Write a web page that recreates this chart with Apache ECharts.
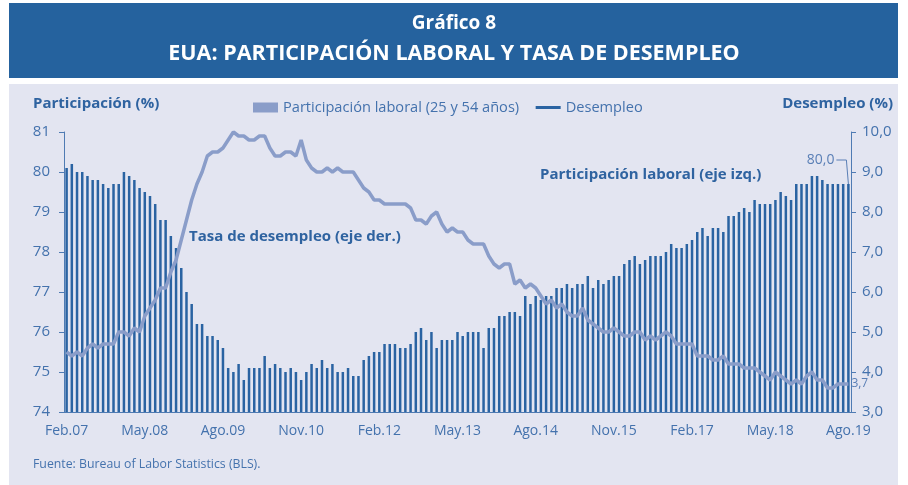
<!DOCTYPE html>
<html>
<head>
<meta charset="utf-8">
<title>Gráfico 8</title>
<script src="https://cdn.jsdelivr.net/npm/echarts@6/dist/echarts.min.js"></script>
<style>
    html, body { margin: 0; padding: 0; background: #ffffff; }
    #chart { width: 908px; height: 485px; }
</style>
</head>
<body>
<div id="chart"></div>
<script>
// Meses (Feb.07 - Ago.19)
const meses = ['Ene', 'Feb', 'Mar', 'Abr', 'May', 'Jun', 'Jul', 'Ago', 'Sep', 'Oct', 'Nov', 'Dic'];
const anios = ['07', '08', '09', '10', '11', '12', '13', '14', '15', '16', '17', '18', '19'];

// Participación laboral 25-54 años (%), eje izquierdo
const participacion = [
    80.1, 80.2, 80.0, 80.0, 79.9, 79.8, 79.8, 79.7, 79.6, 79.7, 79.7,
    80.0, 79.9, 79.8, 79.6, 79.5, 79.4, 79.2, 78.8, 78.8, 78.4, 78.1, 77.6,
    77.0, 76.7, 76.2, 76.2, 75.9, 75.9, 75.8, 75.6, 75.1, 75.0, 75.2, 74.8,
    75.1, 75.1, 75.1, 75.4, 75.1, 75.2, 75.1, 75.0, 75.1, 75.0, 74.8, 75.0,
    75.2, 75.1, 75.3, 75.1, 75.2, 75.0, 75.0, 75.1, 74.9, 74.9, 75.3, 75.4,
    75.5, 75.5, 75.7, 75.7, 75.7, 75.6, 75.6, 75.7, 76.0, 76.1, 75.8, 76.0,
    75.6, 75.8, 75.8, 75.8, 76.0, 75.9, 76.0, 76.0, 76.0, 75.6, 76.1, 76.1,
    76.4, 76.4, 76.5, 76.5, 76.4, 76.9, 76.7, 76.9, 76.8, 76.9, 76.9, 77.1,
    77.1, 77.2, 77.1, 77.2, 77.2, 77.4, 77.1, 77.3, 77.2, 77.3, 77.4, 77.4,
    77.7, 77.8, 77.9, 77.7, 77.8, 77.9, 77.9, 77.9, 78.0, 78.2, 78.1, 78.1,
    78.2, 78.3, 78.5, 78.6, 78.4, 78.6, 78.6, 78.5, 78.9, 78.9, 79.0, 79.1,
    79.0, 79.3, 79.2, 79.2, 79.2, 79.3, 79.5, 79.4, 79.3, 79.7, 79.7, 79.7,
    79.9, 79.9, 79.8, 79.7, 79.7, 79.7, 79.7, 79.7
];

// Tasa de desempleo (%), eje derecho
const desempleo = [
    4.5, 4.4, 4.5, 4.4, 4.6, 4.7, 4.6, 4.7, 4.7, 4.7, 5.0,
    5.0, 4.9, 5.1, 5.0, 5.4, 5.6, 5.8, 6.1, 6.1, 6.5, 6.8, 7.3,
    7.8, 8.3, 8.7, 9.0, 9.4, 9.5, 9.5, 9.6, 9.8, 10.0, 9.9, 9.9,
    9.8, 9.8, 9.9, 9.9, 9.6, 9.4, 9.4, 9.5, 9.5, 9.4, 9.8, 9.3,
    9.1, 9.0, 9.0, 9.1, 9.0, 9.1, 9.0, 9.0, 9.0, 8.8, 8.6, 8.5,
    8.3, 8.3, 8.2, 8.2, 8.2, 8.2, 8.2, 8.1, 7.8, 7.8, 7.7, 7.9,
    8.0, 7.7, 7.5, 7.6, 7.5, 7.5, 7.3, 7.2, 7.2, 7.2, 6.9, 6.7,
    6.6, 6.7, 6.7, 6.2, 6.3, 6.1, 6.2, 6.1, 5.9, 5.7, 5.8, 5.6,
    5.7, 5.5, 5.4, 5.4, 5.6, 5.3, 5.2, 5.1, 5.0, 5.0, 5.1, 5.0,
    4.9, 4.9, 5.0, 5.0, 4.8, 4.9, 4.8, 4.9, 5.0, 4.9, 4.7, 4.7,
    4.7, 4.7, 4.4, 4.4, 4.4, 4.3, 4.3, 4.4, 4.2, 4.2, 4.2, 4.1,
    4.1, 4.1, 4.0, 3.9, 3.8, 4.0, 3.9, 3.8, 3.7, 3.8, 3.7, 3.9,
    4.0, 3.8, 3.8, 3.6, 3.6, 3.7, 3.7, 3.7
];

// dato final de participación que se rotula en el gráfico
const participacionRotulo = 80.0;

// categorías: un mes por barra, desde Feb.07
const categorias = [];
anios.forEach((a, i) => {
    meses.forEach((m, j) => {
        if (i === 0 && j < 1) return;
        if (categorias.length < participacion.length) categorias.push(m + '.' + a);
    });
});

const FONT = '"Open Sans", "Noto Sans", sans-serif';
const azulBarra = '#2a63a2';
const azulLinea = '#8a9dc9';
const azulTexto = '#2f63a0';
const azulEtiqueta = '#4472ad';
const azulEje = '#4f7bb3';

const coma = v => v.toFixed(1).replace('.', ',');

const chart = echarts.init(document.getElementById('chart'));

const option = {
    animation: false,
    textStyle: { fontFamily: FONT },
    grid: { left: 64, right: 57, top: 132, bottom: 73 },
    legend: {
        left: 248,
        top: 95,
        itemWidth: 25,
        itemHeight: 10,
        itemGap: 15,
        textStyle: { color: azulEtiqueta, fontSize: 14.6, fontFamily: FONT },
        data: [
            { name: 'Participación laboral (25 y 54 años)', icon: 'rect', itemStyle: { color: azulLinea } },
            { name: 'Desempleo', itemStyle: { color: azulBarra, opacity: 0 }, lineStyle: { color: azulBarra, width: 3 } }
        ]
    },
    xAxis: {
        type: 'category',
        data: categorias,
        boundaryGap: true,
        axisLine: { lineStyle: { color: azulEje, width: 1 } },
        axisTick: { interval: 14, length: 5, lineStyle: { color: azulEje } },
        axisLabel: { interval: 14, color: azulEtiqueta, fontSize: 14, margin: 12, fontFamily: FONT }
    },
    yAxis: [
        {
            type: 'value',
            min: 74,
            max: 81,
            interval: 1,
            position: 'left',
            splitLine: { show: false },
            axisLine: { show: true, lineStyle: { color: azulEje } },
            axisTick: { show: true, length: 5, lineStyle: { color: azulEje } },
            axisLabel: { color: azulEtiqueta, fontSize: 15, margin: 14, fontFamily: FONT }
        },
        {
            type: 'value',
            min: 3,
            max: 10,
            interval: 1,
            position: 'right',
            splitLine: { show: false },
            axisLine: { show: true, lineStyle: { color: azulEje } },
            axisTick: { show: true, length: 5, lineStyle: { color: azulEje } },
            axisLabel: { color: azulEtiqueta, fontSize: 15, margin: 11, fontFamily: FONT, formatter: coma }
        }
    ],
    series: [
        {
            name: 'Participación laboral (25 y 54 años)',
            type: 'bar',
            yAxisIndex: 0,
            data: participacion,
            barWidth: 2.5,
            itemStyle: { color: azulBarra }
        },
        {
            name: 'Desempleo',
            type: 'line',
            yAxisIndex: 1,
            data: desempleo,
            symbol: 'none',
            lineStyle: { color: azulLinea, width: 3.5 },
            itemStyle: { color: azulLinea },
            endLabel: {
                show: true,
                distance: 3,
                color: '#5a7fb6',
                fontSize: 12,
                fontFamily: FONT,
                formatter: p => coma(p.value)
            }
        }
    ],
    graphic: {
        elements: [
            // banda del título
            { id: 'banda', type: 'rect', z: -10, shape: { x: 9, y: 3, width: 889, height: 75 }, style: { fill: '#25629e' } },
            { id: 'panel', type: 'rect', z: -10, shape: { x: 9, y: 84, width: 889, height: 410 }, style: { fill: '#e3e5f1' } },
            {
                id: 't1', type: 'text', left: 'center', top: 14,
                style: { text: 'Gráfico 8', fill: '#ffffff', font: 'bold 19px ' + FONT }
            },
            {
                id: 't2', type: 'text', left: 'center', top: 43,
                style: { text: 'EUA: PARTICIPACIÓN LABORAL Y TASA DE DESEMPLEO', fill: '#ffffff', font: 'bold 21.5px ' + FONT }
            },
            {
                id: 'ejeIzq', type: 'text', left: 33, top: 96,
                style: { text: 'Participación (%)', fill: azulTexto, font: 'bold 15px ' + FONT }
            },
            {
                id: 'ejeDer', type: 'text', right: 15, top: 96,
                style: { text: 'Desempleo (%)', fill: azulTexto, font: 'bold 15px ' + FONT }
            },
            {
                id: 'notaDes', type: 'text', left: 189, top: 229,
                style: { text: 'Tasa de desempleo (eje der.)', fill: azulTexto, font: 'bold 15px ' + FONT }
            },
            {
                id: 'notaPart', type: 'text', left: 540, top: 167,
                style: { text: 'Participación laboral (eje izq.)', fill: azulTexto, font: 'bold 15px ' + FONT }
            },
            {
                id: 'fuente', type: 'text', left: 33, top: 458,
                style: { text: 'Fuente: Bureau of Labor Statistics (BLS).', fill: azulEtiqueta, font: '12.3px ' + FONT }
            }
        ]
    }
};

chart.setOption(option);

// rótulo del último dato de participación, con línea guía a la barra
const ult = participacion.length - 1;
const tope = chart.convertToPixel({ xAxisIndex: 0, yAxisIndex: 0 }, [ult, participacion[ult]]);
chart.setOption({
    graphic: {
        elements: [
            {
                id: 'guia', type: 'polyline',
                shape: { points: [[tope[0], tope[1]], [tope[0] - 2, tope[1] - 24], [tope[0] - 12, tope[1] - 24]] },
                style: { stroke: '#5a7fb6', lineWidth: 1, fill: null }
            },
            {
                id: 'rotulo', type: 'text', x: tope[0] - 14, y: tope[1] - 24,
                style: {
                    text: coma(participacionRotulo), fill: '#5a7fb6', font: '14px ' + FONT,
                    textAlign: 'right', textVerticalAlign: 'middle'
                }
            }
        ]
    }
});

window.addEventListener('resize', () => chart.resize());
</script>
</body>
</html>
